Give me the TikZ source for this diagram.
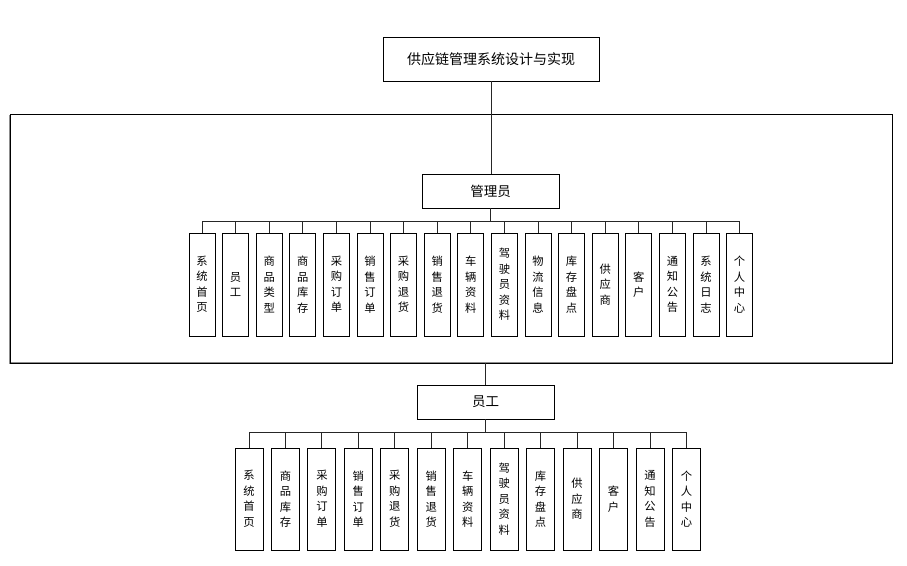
\documentclass[tikz,border=0pt]{standalone}
\usepackage{fontspec}
\newfontfamily\cjk{Noto Sans CJK SC}
\begin{document}
\begin{tikzpicture}[x=1pt,y=-1pt,
  box/.style={draw=black,line width=0.9pt,fill=white,inner sep=0pt,align=center,font=\cjk\fontsize{13.5}{15}\selectfont},
  leaf/.style={box,minimum width=26pt,minimum height=103pt,font=\cjk\fontsize{11.3}{15.5}\selectfont},
  eleaf/.style={leaf,minimum width=28pt,minimum height=102pt},
  link/.style={draw=black!85,line width=0.9pt}]
\useasboundingbox (0,0) rectangle (907,565);
% outer frame
\draw[line width=1.6pt,draw=black!45] (10,115) -- (10,363) -- (892,363);
\draw[line width=0.9pt] (10,114) rectangle (892,363);
\coordinate (frameS) at (485.5,363);
% top nodes
\node[box,minimum width=216pt,minimum height=44pt,font=\cjk\fontsize{14}{16}\selectfont] (title) at (491,59) {供应链管理系统设计与实现};
\node[box,minimum width=137pt,minimum height=34pt] (mgr) at (490.5,191) {管理员};
\node[box,minimum width=137pt,minimum height=34pt] (emp) at (485.5,402) {员工};
\draw[link] (title.south) -- (title.south |- mgr.north);
\draw[link] (emp.north) -- (emp.north |- frameS);
% admin children
\coordinate (busA) at (0,221);
\foreach \t [count=\i] in {系\\统\\首\\页,员\\工,商\\品\\类\\型,商\\品\\库\\存,采\\购\\订\\单,销\\售\\订\\单,采\\购\\退\\货,销\\售\\退\\货,车\\辆\\资\\料,驾\\驶\\员\\资\\料,物\\流\\信\\息,库\\存\\盘\\点,供\\应\\商,客\\户,通\\知\\公\\告,系\\统\\日\\志,个\\人\\中\\心}{
  \node[leaf] (a\i) at ({202+33.6*(\i-1)},284.5) {\t};
  \draw[link] (mgr.south) -- (mgr.south |- busA) -| (a\i.north);
}
% employee children
\coordinate (busE) at (0,432);
\foreach \t [count=\i] in {系\\统\\首\\页,商\\品\\库\\存,采\\购\\订\\单,销\\售\\订\\单,采\\购\\退\\货,销\\售\\退\\货,车\\辆\\资\\料,驾\\驶\\员\\资\\料,库\\存\\盘\\点,供\\应\\商,客\\户,通\\知\\公\\告,个\\人\\中\\心}{
  \node[eleaf] (e\i) at ({249+36.45*(\i-1)},499) {\t};
  \draw[link] (emp.south) -- (emp.south |- busE) -| (e\i.north);
}
\end{tikzpicture}
\end{document}
